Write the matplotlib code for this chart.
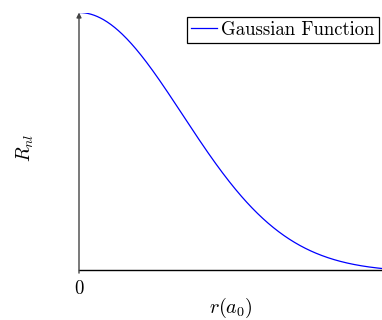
import numpy as np
import matplotlib
matplotlib.use("Agg")
import matplotlib.pyplot as plt

# Data: Gaussian function parameters
amplitude = 1.0
width = 1.0
r_min, r_max = 0.0, 2.07
y_min = 0.008
legend_label = "Gaussian Function"
x_tick_values = [0]
x_tick_labels = ["0"]
x_label = r"$r(a_0)$"
y_label = r"$R_{nl}$"

r = np.linspace(r_min, r_max, 400)
R = amplitude * np.exp(-(r / width) ** 2)

plt.rcParams["font.family"] = "serif"
plt.rcParams["font.serif"] = ["cmr10", "DejaVu Serif"]
plt.rcParams["mathtext.fontset"] = "cm"
plt.rcParams["axes.formatter.use_mathtext"] = True

fig = plt.figure(figsize=(3.82, 3.20), dpi=100)
ax = fig.add_axes([79 / 382, 50 / 320, 303 / 382, 257.5 / 320])

ax.plot(r, R, color="#0000ff", lw=0.9, label=legend_label)
ax.set_xlim(r_min, r_max)
ax.set_ylim(y_min, amplitude)

for s in ["top", "right", "left"]:
    ax.spines[s].set_visible(False)
ax.spines["bottom"].set_color("black")
ax.spines["bottom"].set_linewidth(1.0)

ax.annotate("", xy=(0, 1.0), xycoords="axes fraction", xytext=(0, -0.012),
            textcoords="axes fraction",
            arrowprops=dict(arrowstyle="-|>", color="#444444", lw=1.0,
                            mutation_scale=7, shrinkA=0, shrinkB=0))

ax.set_xticks(x_tick_values)
ax.set_xticklabels(x_tick_labels, fontsize=13.5)
ax.tick_params(axis="x", length=0, pad=7)
ax.set_yticks([])

fig.text(231 / 382, 1 - 307.5 / 320, x_label, ha="center", va="center", fontsize=14.5)
fig.text(25 / 382, 1 - 148 / 320, y_label, ha="center", va="center", fontsize=14,
         rotation=90)

leg = ax.legend(loc="upper left", bbox_to_anchor=(187 / 382, 1 - 17 / 320),
                bbox_transform=fig.transFigure, fontsize=13.5, frameon=True,
                fancybox=False, framealpha=1, edgecolor="black",
                handlelength=1.4, handletextpad=0.2, borderpad=0.22,
                borderaxespad=0)
leg.get_frame().set_linewidth(0.9)

fig.savefig("out.png", dpi=100)
